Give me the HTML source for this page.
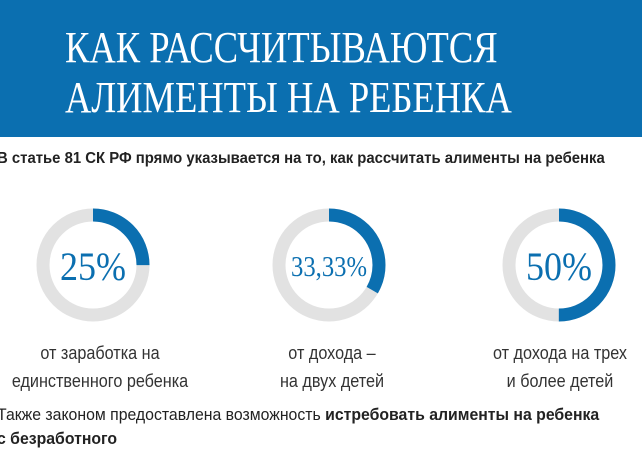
<!DOCTYPE html>
<html><head><meta charset="utf-8"><style>
body{margin:0;width:642px;height:466px;background:#fff;overflow:hidden;position:relative;font-family:"Liberation Sans",sans-serif}
.hdr{position:absolute;left:0;top:0;width:642px;height:137px;background:#0b6fb0}
.t{position:absolute;left:65px;color:#fff;font-family:"Liberation Serif",serif;font-size:44px;white-space:nowrap;transform-origin:0 0;transform:scaleX(0.83)}
.s{position:absolute;white-space:nowrap;color:#222;transform-origin:0 0}
.lab{position:absolute;width:220px;text-align:center;font-size:18px;line-height:28px;color:#333;transform:scaleX(0.9)}
</style></head><body>
<div class="hdr"></div>
<div class="t" style="top:22px">КАК РАССЧИТЫВАЮТСЯ</div>
<div class="t" style="top:72px">АЛИМЕНТЫ НА РЕБЕНКА</div>
<div class="s" style="left:-3px;top:150px;font-size:16px;font-weight:bold;transform:scaleX(0.93)">В статье 81 СК РФ прямо указывается на то, как рассчитать алименты на ребенка</div>
<svg width="642" height="466" style="position:absolute;left:0;top:0">
<g fill="none" stroke-width="13">
<circle cx="93" cy="265" r="50" stroke="#e2e2e2"/>
<circle cx="93" cy="265" r="50" stroke="#0b6fb0" stroke-dasharray="78.5 400" transform="rotate(-90 93 265)"/>
<circle cx="329" cy="265" r="50" stroke="#e2e2e2"/>
<circle cx="329" cy="265" r="50" stroke="#0b6fb0" stroke-dasharray="104.7 400" transform="rotate(-90 329 265)"/>
<circle cx="559" cy="265" r="50" stroke="#e2e2e2"/>
<circle cx="559" cy="265" r="50" stroke="#0b6fb0" stroke-dasharray="157 400" transform="rotate(-90 559 265)"/>
</g>
<g font-family="Liberation Serif,serif" fill="#0b6fb0" text-anchor="middle">
<text x="93" y="280" font-size="40" transform="translate(93 0) scale(0.9 1) translate(-93 0)">25%</text>
<text x="329" y="276" font-size="29" transform="translate(329 0) scale(0.85 1) translate(-329 0)">33,33%</text>
<text x="559" y="280" font-size="40" transform="translate(559 0) scale(0.9 1) translate(-559 0)">50%</text>
</g>
</svg>
<div class="lab" style="left:-10px;top:339px">от заработка на<br>единственного ребенка</div>
<div class="lab" style="left:222px;top:339px">от дохода –<br>на двух детей</div>
<div class="lab" style="left:450px;top:339px">от дохода на трех<br>и более детей</div>
<div class="s" style="left:-3px;top:403px;font-size:17px;line-height:24px;transform:scaleX(0.93)">Также законом предоставлена возможность <b>истребовать алименты на ребенка</b><br><b>с безработного</b></div>
</body></html>
